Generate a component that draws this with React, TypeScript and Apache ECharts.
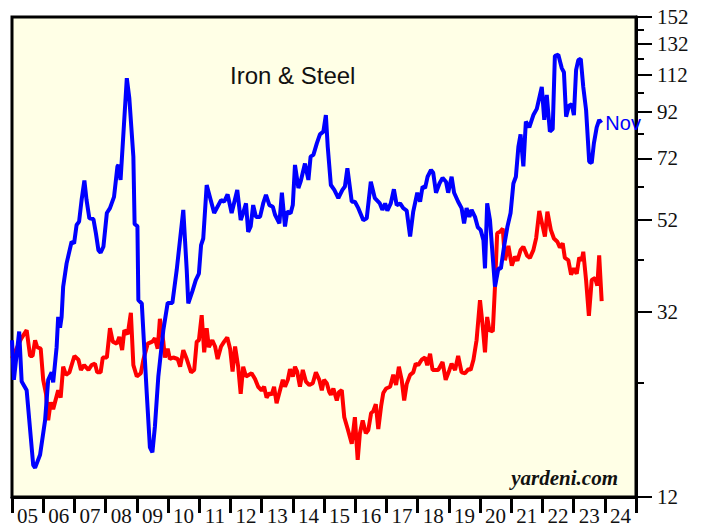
import React, { useEffect, useRef } from "react";
import * as echarts from "echarts";

// Year labels shown centred between year ticks
const yearLabels = ["05","06","07","08","09","10","11","12","13","14","15","16","17","18","19","20","21","22","23","24"];
// Right log-axis labelled ticks and minor ticks
const yTicks = [12, 32, 52, 72, 92, 112, 132, 152];
const yMinorTicks = [22, 42, 62, 82, 102, 122, 142];

// Blue series: [decimal year, value]
const blueSeries: [number, number][] = [
  [2005.0, 27.5],[2005.06, 22.3],[2005.23, 28.8],[2005.31, 22.1],[2005.47, 21.1],[2005.68, 14.2],[2005.74, 14.0],[2005.9, 15.0],
  [2006.06, 18.0],[2006.16, 22.3],[2006.27, 23.2],[2006.32, 22.0],[2006.43, 26.5],[2006.48, 31.1],[2006.54, 29.4],[2006.59, 31.1],
  [2006.64, 36.5],[2006.75, 41.3],[2006.91, 46.3],[2006.99, 45.9],[2007.07, 50.6],[2007.15, 51.5],[2007.23, 57.7],[2007.32, 64.0],
  [2007.39, 57.7],[2007.48, 52.4],[2007.61, 52.2],[2007.69, 48.4],[2007.77, 44.3],[2007.84, 43.7],[2007.93, 45.1],[2008.04, 53.9],
  [2008.14, 55.3],[2008.27, 58.7],[2008.38, 69.0],[2008.41, 69.5],[2008.48, 64.2],[2008.68, 110],[2008.76, 99],[2008.89, 72.6],
  [2008.93, 50.8],[2009.02, 50.3],[2009.05, 34.0],[2009.16, 33.4],[2009.32, 20.7],[2009.42, 15.6],[2009.5, 15.2],[2009.58, 17.4],
  [2009.69, 22.7],[2009.85, 29.0],[2009.99, 33.5],[2010.14, 33.5],[2010.28, 39.9],[2010.49, 54.8],[2010.6, 39.9],[2010.65, 33.4],
  [2010.78, 35.6],[2010.89, 37.8],[2010.99, 39.1],[2011.06, 45.5],[2011.13, 47.1],[2011.24, 62.5],[2011.48, 53.9],[2011.7, 57.7],
  [2011.8, 57.2],[2011.91, 59.5],[2012.04, 53.9],[2012.22, 60.9],[2012.33, 51.9],[2012.39, 53.4],[2012.5, 56.7],[2012.57, 48.8],
  [2012.65, 50.2],[2012.73, 56.2],[2012.82, 52.8],[2012.95, 52.8],[2013.05, 56.7],[2013.14, 59.3],[2013.25, 56.2],[2013.36, 55.7],
  [2013.43, 53.4],[2013.57, 51.0],[2013.65, 60.0],[2013.75, 50.2],[2013.82, 54.3],[2013.93, 53.8],[2014.0, 56.2],[2014.07, 69.5],
  [2014.18, 61.5],[2014.25, 63.6],[2014.39, 70.0],[2014.5, 64.2],[2014.57, 72.6],[2014.66, 73.3],[2014.77, 77.9],[2014.87, 81.7],
  [2014.98, 82.9],[2015.06, 90.5],[2015.12, 76.5],[2015.22, 62.5],[2015.33, 60.9],[2015.46, 58.3],[2015.59, 60.9],[2015.67, 62.0],
  [2015.75, 68.3],[2015.89, 57.2],[2015.99, 57.2],[2016.1, 55.3],[2016.26, 51.9],[2016.37, 52.4],[2016.5, 63.6],[2016.63, 58.3],
  [2016.79, 56.7],[2016.87, 54.8],[2016.96, 56.7],[2017.03, 54.6],[2017.14, 56.7],[2017.24, 61.1],[2017.33, 56.2],[2017.44, 56.7],
  [2017.54, 55.3],[2017.65, 54.6],[2017.76, 47.6],[2017.86, 54.3],[2017.99, 60.0],[2018.08, 57.2],[2018.16, 62.0],[2018.24, 61.5],
  [2018.32, 65.3],[2018.43, 67.7],[2018.5, 66.7],[2018.59, 60.0],[2018.7, 63.0],[2018.8, 64.9],[2018.91, 63.6],[2018.98, 60.0],
  [2019.09, 65.3],[2019.17, 60.0],[2019.3, 57.2],[2019.41, 55.3],[2019.49, 51.0],[2019.57, 55.3],[2019.66, 52.8],[2019.73, 54.8],
  [2019.84, 52.8],[2019.93, 50.0],[2020.02, 49.3],[2020.11, 46.7],[2020.16, 40.2],[2020.23, 56.7],[2020.32, 51.9],[2020.41, 42.6],
  [2020.48, 36.5],[2020.59, 40.2],[2020.67, 40.2],[2020.77, 45.1],[2020.88, 50.2],[2020.98, 53.9],[2021.07, 63.0],[2021.15, 65.3],
  [2021.23, 76.5],[2021.3, 81.7],[2021.39, 69.0],[2021.47, 87.4],[2021.58, 84.8],[2021.71, 90.5],[2021.82, 93.5],[2021.9, 99.0],
  [2021.98, 105],[2022.06, 88.2],[2022.14, 100.7],[2022.24, 82.9],[2022.33, 84.0],[2022.4, 123.8],[2022.51, 124.5],[2022.62, 116],
  [2022.69, 113.5],[2022.76, 89.7],[2022.85, 95.0],[2022.94, 95.8],[2023.01, 90.5],[2023.08, 114.9],[2023.15, 121],[2023.23, 121.8],
  [2023.31, 105],[2023.4, 93.0],[2023.5, 70.7],[2023.58, 70.2],[2023.65, 77.9],[2023.74, 84.8],[2023.82, 88.2],[2023.89, 86.8],
];

// Red series: [decimal year, value]
const redSeries: [number, number][] = [
  [2005.0, 25.0],[2005.29, 27.7],[2005.47, 29.0],[2005.58, 25.3],[2005.66, 25.3],[2005.74, 27.5],[2005.81, 26.5],[2005.92, 26.3],
  [2006.0, 22.3],[2006.09, 20.7],[2006.16, 18.0],[2006.24, 19.8],[2006.32, 19.1],[2006.48, 21.1],[2006.56, 20.3],[2006.64, 23.9],
  [2006.73, 22.9],[2006.84, 23.2],[2007.0, 25.3],[2007.13, 24.8],[2007.21, 23.5],[2007.31, 24.1],[2007.45, 23.5],[2007.55, 24.1],
  [2007.66, 24.3],[2007.73, 23.2],[2007.84, 23.2],[2007.91, 25.1],[2008.04, 25.1],[2008.14, 29.3],[2008.23, 27.3],[2008.36, 27.0],
  [2008.44, 28.0],[2008.53, 26.1],[2008.6, 29.0],[2008.71, 28.4],[2008.81, 31.8],[2008.89, 24.1],[2009.0, 22.7],[2009.13, 23.1],
  [2009.21, 24.8],[2009.35, 27.0],[2009.5, 27.3],[2009.58, 27.8],[2009.67, 26.3],[2009.74, 30.8],[2009.85, 27.3],[2009.9, 25.1],
  [2009.99, 26.3],[2010.06, 24.9],[2010.17, 25.1],[2010.31, 24.9],[2010.39, 23.9],[2010.49, 26.1],[2010.6, 24.9],[2010.74, 23.2],
  [2010.84, 23.5],[2010.92, 27.3],[2010.99, 27.5],[2011.08, 31.4],[2011.16, 25.8],[2011.24, 29.3],[2011.31, 26.5],[2011.42, 27.5],
  [2011.51, 26.6],[2011.59, 24.9],[2011.7, 26.6],[2011.8, 27.3],[2011.9, 27.9],[2011.99, 26.3],[2012.07, 23.3],[2012.15, 26.6],
  [2012.25, 23.9],[2012.33, 20.7],[2012.41, 23.9],[2012.5, 22.7],[2012.68, 23.1],[2012.79, 22.4],[2012.89, 21.5],[2013.0, 21.1],
  [2013.08, 21.5],[2013.16, 20.3],[2013.25, 20.8],[2013.32, 20.6],[2013.4, 21.5],[2013.48, 19.7],[2013.59, 21.1],[2013.68, 22.3],
  [2013.75, 21.5],[2013.84, 22.3],[2013.91, 23.6],[2014.0, 22.7],[2014.07, 23.9],[2014.14, 23.3],[2014.23, 21.5],[2014.32, 23.5],
  [2014.42, 22.1],[2014.53, 21.7],[2014.64, 21.9],[2014.74, 23.2],[2014.85, 22.3],[2014.93, 21.1],[2015.0, 22.3],[2015.09, 21.9],
  [2015.17, 20.9],[2015.22, 20.6],[2015.3, 21.3],[2015.41, 20.0],[2015.48, 20.9],[2015.57, 21.1],[2015.65, 18.3],[2015.76, 17.2],
  [2015.89, 15.9],[2015.99, 18.3],[2016.08, 14.6],[2016.15, 16.8],[2016.24, 18.0],[2016.34, 16.8],[2016.42, 17.1],[2016.51, 18.7],
  [2016.58, 18.9],[2016.66, 19.6],[2016.74, 17.2],[2016.83, 19.4],[2016.9, 20.8],[2016.99, 21.3],[2017.12, 21.5],[2017.22, 22.9],
  [2017.31, 21.7],[2017.4, 23.9],[2017.49, 22.3],[2017.57, 20.0],[2017.65, 21.8],[2017.76, 22.9],[2017.86, 23.2],[2017.94, 24.3],
  [2018.02, 24.1],[2018.13, 24.8],[2018.24, 25.1],[2018.31, 24.1],[2018.4, 25.6],[2018.48, 23.5],[2018.66, 23.5],[2018.8, 24.5],
  [2018.9, 22.3],[2019.02, 23.5],[2019.09, 24.3],[2019.2, 23.5],[2019.3, 25.3],[2019.41, 23.2],[2019.52, 23.1],[2019.63, 23.6],
  [2019.7, 23.5],[2019.79, 24.8],[2019.89, 27.5],[2020.0, 34.0],[2020.09, 29.5],[2020.16, 25.8],[2020.23, 31.1],[2020.3, 29.0],
  [2020.41, 28.8],[2020.48, 36.5],[2020.55, 48.4],[2020.64, 48.8],[2020.73, 49.6],[2020.8, 42.0],[2020.91, 45.3],[2021.02, 40.8],
  [2021.12, 42.8],[2021.2, 41.9],[2021.3, 44.3],[2021.39, 45.1],[2021.51, 43.0],[2021.6, 42.5],[2021.71, 44.3],[2021.8, 47.2],
  [2021.9, 54.5],[2022.01, 50.2],[2022.08, 47.6],[2022.16, 54.3],[2022.27, 49.3],[2022.37, 47.1],[2022.48, 46.3],[2022.56, 44.9],
  [2022.65, 45.9],[2022.72, 42.5],[2022.83, 42.0],[2022.92, 38.9],[2023.01, 40.2],[2023.1, 39.1],[2023.18, 42.6],[2023.26, 41.9],
  [2023.31, 43.9],[2023.4, 37.8],[2023.49, 31.3],[2023.58, 37.8],[2023.69, 38.2],[2023.76, 36.7],[2023.82, 43.1],[2023.9, 33.8],
];

export default function App() {
  const ref = useRef<HTMLDivElement>(null);

  useEffect(() => {
    document.body.style.margin = "0";
    if (!ref.current) return;
    const chart = echarts.init(ref.current, null, { renderer: "svg" });
    const serif = "Liberation Serif";
    chart.setOption({
      animation: false,
      backgroundColor: "#ffffff",
      grid: {
        left: 12,
        right: 70,
        top: 17,
        bottom: 30,
        show: true,
        backgroundColor: "#FFFFE6",
        borderColor: "#000",
        borderWidth: 3,
      },
      xAxis: [
        {
          type: "value",
          min: 2005,
          max: 2025,
          interval: 1,
          position: "bottom",
          axisLine: { show: true, onZero: false, lineStyle: { color: "#000", width: 3 } },
          axisTick: { show: true, length: 16, lineStyle: { color: "#000", width: 3 } },
          axisLabel: { show: false },
          splitLine: { show: false },
        },
        {
          type: "category",
          data: yearLabels,
          boundaryGap: true,
          position: "bottom",
          axisLine: { show: false },
          axisTick: { show: false },
          axisLabel: { show: true, interval: 0, margin: 8, fontFamily: serif, fontSize: 21, color: "#111" },
          splitLine: { show: false },
        },
      ],
      yAxis: [
        {
          type: "log",
          min: 12,
          max: 152,
          position: "right",
          axisLine: { show: true, onZero: false, lineStyle: { color: "#000", width: 3 } },
          axisTick: { show: true, customValues: yTicks, length: 16, lineStyle: { color: "#000", width: 2 } },
          axisLabel: { show: true, customValues: yTicks, margin: 21, fontFamily: serif, fontSize: 21, color: "#111" },
          splitLine: { show: false },
          minorTick: { show: false },
        },
        {
          type: "log",
          min: 12,
          max: 152,
          position: "right",
          axisLine: { show: false },
          axisTick: { show: true, customValues: yMinorTicks, length: 8, lineStyle: { color: "#000", width: 2 } },
          axisLabel: { show: false },
          splitLine: { show: false },
          minorTick: { show: false },
        },
      ],
      graphic: [
        {
          type: "text",
          x: 230,
          y: 75,
          style: {
            text: "Iron & Steel",
            font: '24px "Liberation Sans"',
            fill: "#111",
            align: "left",
            verticalAlign: "middle",
          },
        },
        {
          type: "text",
          x: 618,
          y: 478,
          style: {
            text: "yardeni.com",
            font: 'italic bold 21px "Liberation Serif"',
            fill: "#111",
            align: "right",
            verticalAlign: "middle",
          },
        },
      ],
      series: [
        {
          type: "line",
          xAxisIndex: 0,
          yAxisIndex: 0,
          data: redSeries,
          showSymbol: false,
          symbol: "none",
          lineStyle: { color: "#FF0000", width: 4 },
          itemStyle: { color: "#FF0000" },
        },
        {
          type: "line",
          xAxisIndex: 0,
          yAxisIndex: 0,
          data: blueSeries,
          showSymbol: false,
          symbol: "none",
          lineStyle: { color: "#0000FF", width: 4 },
          itemStyle: { color: "#0000FF" },
          endLabel: {
            show: true,
            formatter: "Nov",
            color: "#0000FF",
            fontFamily: "Liberation Sans",
            fontSize: 20,
            distance: 4,
          },
        },
      ],
    });
    return () => chart.dispose();
  }, []);

  return <div ref={ref} style={{ width: 706, height: 527 }} />;
}
